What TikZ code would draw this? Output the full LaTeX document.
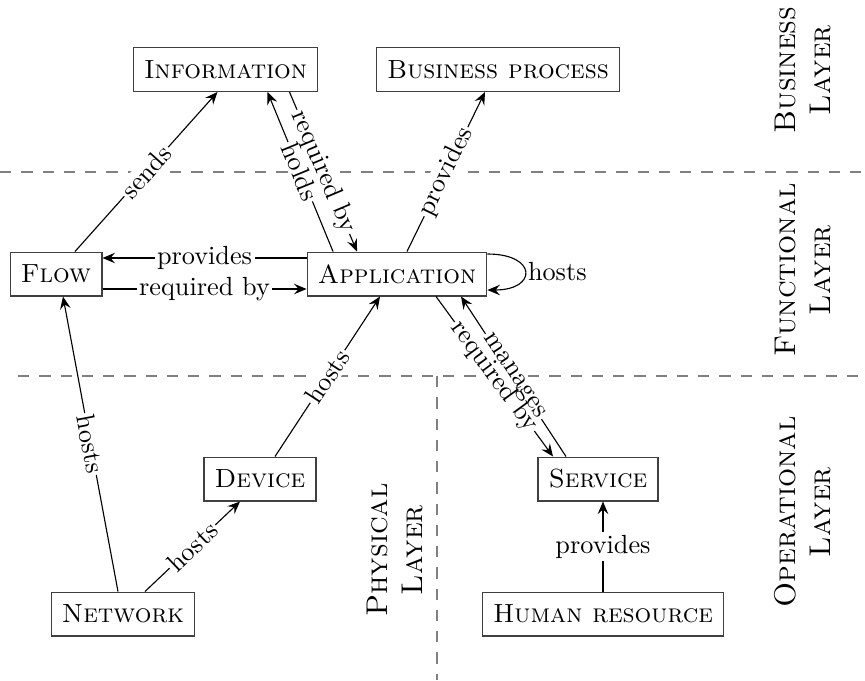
\documentclass[tikz,border=0pt]{standalone}
\usetikzlibrary{arrows.meta,calc}
\begin{document}
\begin{tikzpicture}[x=0.4pt,y=-0.4pt,
  font=\fontsize{10.5}{12}\selectfont,
  box/.style={draw=black!75, line width=0.5pt, font=\fontsize{10.5}{12}\selectfont\scshape,
    minimum height=17.5pt, inner xsep=4.3pt},
  rel/.style={-{Stealth[length=5pt,width=4.2pt,inset=1.8pt]}, line width=0.45pt},
  lbl/.style={fill=white, inner sep=0.8pt, midway, sloped},
  gap/.style={lbl},
  txt/.style={lbl, fill=none},
  hlbl/.style={fill=white, inner sep=1pt, midway},
  divider/.style={draw=gray, line width=0.6pt, dash pattern=on 4.5pt off 4pt},
  layer/.style={rotate=90, align=center, font=\large\scshape}]
\useasboundingbox (0,0) rectangle (865,680);

% layer separators
\draw[divider] (0,172) -- (865,172);
\draw[divider] (18,376) -- (865,376);
\draw[divider] (437,376) -- (437,680);

% layer captions
\node[layer] (lbus) at (803,70) {Business\\Layer};
\node[layer] (lfun) at (803,270) {Functional\\Layer};
\node[layer] (lope) at (803,512) {Operational\\Layer};
\node[layer] (lphy) at (395,550) {Physical\\Layer};

% entities
\node[box] (info) at (225.5,69.5) {Information};
\node[box] (bp)   at (498,69.5)   {Business process};
\node[box] (flow) at (56,274)     {Flow};
\node[box] (app)  at (397,274)    {Application};
\node[box] (dev)  at (260,479)    {Device};
\node[box] (svc)  at (598,479)    {Service};
\node[box] (net)  at (123,614)    {Network};
\node[box] (hr)   at (603,614)    {Human resource};

% named end points of the two close pairs of relations
\coordinate (holdsA) at ($(app.north)+(-64,0)$);
\coordinate (holdsB) at ($(info.south)+(42,0)$);
\coordinate (reqA)   at ($(info.south)+(64,0)$);
\coordinate (reqB)   at ($(app.north)+(-40,0)$);
\coordinate (rsA)    at ($(app.south)+(39,0)$);
\coordinate (rsB)    at ($(svc.north)+(-45,0)$);
\coordinate (manA)   at ($(svc.north)+(-32,0)$);
\coordinate (manB)   at ($(app.south)+(64,0)$);

% relations
\draw[rel] ($(flow.north)+(19,0)$) -- node[lbl]{sends} ($(info.south)+(-8,0)$);
\draw[rel] ($(app.north)+(10,0)$) -- node[lbl]{provides} ($(bp.south)+(-13,0)$);

% close pairs: lines with gaps first, then their labels on top
\draw[rel] (holdsA) -- node[gap]{\phantom{holds}} (holdsB);
\draw[rel] (reqA) -- node[gap]{\phantom{required by}} (reqB);
\path (holdsA) -- node[txt]{holds} (holdsB);
\path (reqA) -- node[txt]{required by} (reqB);

\draw[rel] (rsA) -- node[gap]{\phantom{required by}} (rsB);
\draw[rel] (manA) -- node[gap]{\phantom{manages}} (manB);
\path (rsA) -- node[txt]{required by} (rsB);
\path (manA) -- node[txt]{manages} (manB);

\draw[rel] ($(app.west)+(0,-16)$) -- node[hlbl]{provides} ($(flow.east)+(0,-16)$);
\draw[rel] ($(flow.east)+(0,15)$) -- node[hlbl]{required by} ($(app.west)+(0,15)$);
\draw[rel] ($(app.east)+(0,-20)$) .. controls +(50,0) and +(50,0) ..
  node[right, inner sep=1pt]{hosts} ($(app.east)+(0,16)$);

\draw[rel] ($(dev.north)+(15,0)$) -- node[lbl]{hosts} ($(app.south)+(-17,0)$);
\draw[rel] ($(net.north)+(-5,0)$) -- node[lbl]{hosts} ($(flow.south)+(7,0)$);
\draw[rel] ($(net.north)+(22,0)$) -- node[lbl]{hosts} ($(dev.south)+(-20,0)$);

\draw[rel] (hr.north) -- node[hlbl]{provides} (hr.north |- svc.south);
\end{tikzpicture}
\end{document}
